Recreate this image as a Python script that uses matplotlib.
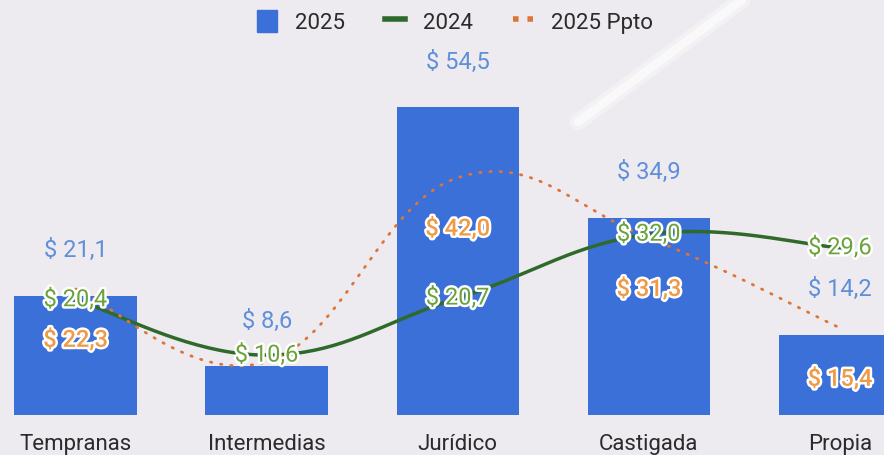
import matplotlib
matplotlib.use('Agg')
import matplotlib.pyplot as plt
import matplotlib.patheffects as pe
from matplotlib.lines import Line2D
from matplotlib.patches import Patch, Polygon
import numpy as np

categorias = ['Tempranas', 'Intermedias', 'Jurídico', 'Castigada', 'Propia']
v2025 = [21.1, 8.6, 54.5, 34.9, 14.2]
v2024 = [20.4, 10.6, 20.7, 32.0, 29.6]
ppto = [22.3, 9.4, 42.0, 31.3, 15.4]
ppto_label = [True, False, True, True, True]

AZUL = '#3a70d8'
VERDE = '#2f6a2a'
NARANJA = '#de7438'
FONDO = '#eeebf0'

plt.rcParams['font.family'] = ['Roboto', 'DejaVu Sans']


def curva(xs, ys, t=0.4, n=40):
    # spline suave tipo chart.js (bezier con tension)
    xs = np.asarray(xs, float)
    ys = np.asarray(ys, float)
    px, py = [], []
    m = len(xs)
    for i in range(m - 1):
        p0 = max(i - 1, 0)
        p3 = min(i + 2, m - 1)
        c1x = xs[i] + t / 2 * (xs[i + 1] - xs[p0])
        c1y = ys[i] + t / 2 * (ys[i + 1] - ys[p0])
        c2x = xs[i + 1] - t / 2 * (xs[p3] - xs[i])
        c2y = ys[i + 1] - t / 2 * (ys[p3] - ys[i])
        u = np.linspace(0, 1, n)
        bx = (1-u)**3*xs[i] + 3*u*(1-u)**2*c1x + 3*u**2*(1-u)*c2x + u**3*xs[i+1]
        by = (1-u)**3*ys[i] + 3*u*(1-u)**2*c1y + 3*u**2*(1-u)*c2y + u**3*ys[i+1]
        px.extend(bx)
        py.extend(by)
    return np.array(px), np.array(py)


fig = plt.figure(figsize=(8.84, 4.55), dpi=100)
fig.patch.set_facecolor(FONDO)

# fondo con brillos suaves
bg = fig.add_axes([0, 0, 1, 1], zorder=-5)
bg.set_xlim(0, 884)
bg.set_ylim(455, 0)
bg.axis('off')
for k in range(8):
    bg.add_patch(Polygon([[720 + 6 * k, 0], [884, 0], [884, 280 - 10 * k], [770 + 6 * k, 280 - 10 * k]],
                         closed=True, facecolor='white', alpha=0.04, lw=0))
for k in range(8):
    bg.add_patch(Polygon([[0, 395 - 4 * k], [884, 345 - 4 * k], [884, 455], [0, 455]], closed=True,
                         facecolor='white', alpha=0.035, lw=0))
bg.plot([578, 742], [122, 0], color='white', lw=12, alpha=0.3, solid_capstyle='round')
bg.plot([578, 742], [122, 0], color='white', lw=6, alpha=0.6, solid_capstyle='round')

ax = fig.add_axes([0, 40 / 455, 1, 415 / 455])
ax.set_facecolor('none')
x = np.arange(len(categorias))
ax.set_xlim(-75.5 / 191.1, 4 + 44 / 191.1)
ax.set_ylim(0, 415 / 5.65)

ax.bar(x, v2025, width=0.64, color=AZUL, zorder=2)

lx, ly = curva(x, v2024)
ax.plot(lx, ly, color=VERDE, lw=2.5, zorder=3)
px_, py_ = curva(x, ppto)
ax.plot(px_, py_, color=NARANJA, lw=2.0, ls=(0, (0.5, 3.2)), dash_capstyle='round', zorder=3)

halo = [pe.withStroke(linewidth=3.5, foreground='white')]
for i, v in enumerate(v2025):
    ax.annotate('$ ' + f'{v:.1f}'.replace('.', ','), (x[i], v), xytext=(0, 45),
                textcoords='offset pixels', ha='center', va='center',
                fontsize=17, color='#5f8fd9', zorder=5)
for i, v in enumerate(ppto):
    if ppto_label[i]:
        ax.annotate('$ ' + f'{v:.1f}'.replace('.', ','), (x[i], v), xytext=(0, -51),
                    textcoords='offset pixels', ha='center', va='center',
                    fontsize=17, color='#f09a45', fontweight='medium',
                    path_effects=halo, zorder=6)
for i, v in enumerate(v2024):
    ax.annotate('$ ' + f'{v:.1f}'.replace('.', ','), (x[i], v), xytext=(0, 0),
                textcoords='offset pixels', ha='center', va='center',
                fontsize=17, color='#6aa33a', path_effects=halo, zorder=7)

ax.set_xticks(x)
ax.set_xticklabels(categorias, fontsize=16, color='#2b2b2b')
ax.tick_params(axis='x', length=0, pad=14)
ax.set_yticks([])
for s in ax.spines.values():
    s.set_visible(False)

handles = [Patch(facecolor=AZUL, edgecolor=AZUL),
           Line2D([0], [0], color=VERDE, lw=4),
           Line2D([0], [0], color=NARANJA, lw=4, ls=(0, (1, 1.6)))]
fig.legend(handles, ['2025', '2024', '2025 Ppto'], loc='center', bbox_to_anchor=(455 / 884, 1 - 22 / 455),
           ncol=3, frameon=False, fontsize=16, handlelength=0.9, handleheight=1.1,
           columnspacing=1.8, handletextpad=0.8, labelcolor='#2b2b2b')

fig.savefig('out.png', dpi=100, facecolor=FONDO)
